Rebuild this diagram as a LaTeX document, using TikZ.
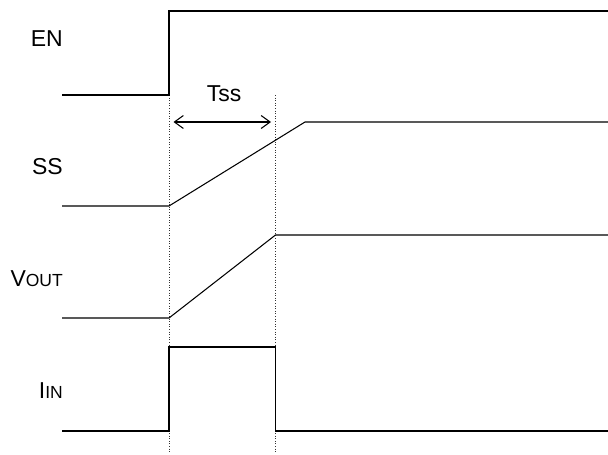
\documentclass[tikz,border=0pt]{standalone}
\usepackage{fontspec}
\setmainfont{Liberation Sans}
\usetikzlibrary{arrows.meta}
\begin{document}
\begin{tikzpicture}[x=1pt,y=-1pt,
  wave/.style={line width=1.05pt,line join=miter},
  guide/.style={line width=0.6pt,dotted,black!80},
  lbl/.style={anchor=base east,inner sep=0pt,font=\fontsize{23}{27}\selectfont}]
\useasboundingbox (0,0) rectangle (608,455);
\newcommand{\smc}[1]{{\fontsize{17.5}{20}\selectfont #1}}
% labels
\node[lbl] (en) at (63,46.7) {EN};
\node[lbl] (ss) at (63,174) {SS};
\node[lbl] (vout) at (63,286) {V\smc{OUT}};
\node[lbl] (iin) at (63,398) {I\smc{IN}};
% guides
\coordinate (g1t) at (169,95); \coordinate (g1b) at (169,453);
\coordinate (g2t) at (275.5,95); \coordinate (g2b) at (275.5,453);
\draw[guide] (g1t) -- (g1b);
\draw[guide] (g2t) -- (g2b);
% EN
\draw[wave] (62,95) -- (169,95) -- (169,11) -- (608,11);
% SS
\draw[wave] (62,206) -- (169,206) -- (305,122) -- (608,122);
% VOUT
\draw[wave] (62,318) -- (169,318) -- (275.5,235) -- (608,235);
% IIN
\draw[wave] (62,431) -- (169,431) -- (169,347) -- (275.5,347) -- (275.5,431) -- (608,431);
% Tss arrow
\coordinate (a1) at (173.5,122);
\coordinate (a2) at (271,122);
\draw[line width=1.05pt,{Straight Barb[length=9pt,width=13pt]}-{Straight Barb[length=9pt,width=13pt]}] (a1) -- (a2);
\node[lbl,anchor=base] (tss) at (224,101.7) {Tss};
\end{tikzpicture}
\end{document}
